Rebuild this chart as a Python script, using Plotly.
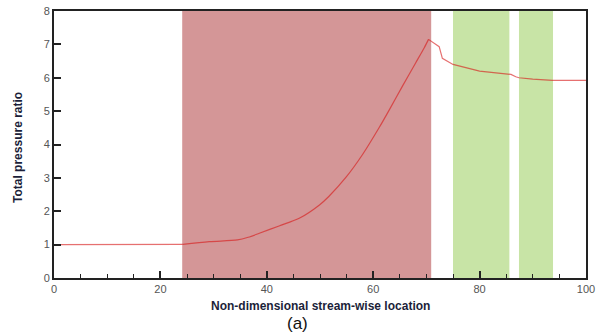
import plotly.graph_objects as go

# Total pressure ratio along the stream-wise coordinate
location = [0, 24, 24.2, 29.2, 34.5, 36.5, 38.6, 42.3, 46.1, 49.9, 51.7, 54.9,
            58.0, 61.1, 63.0, 65.5, 68.0, 69.6, 70.4, 71.1, 72.4, 73.0, 74.1,
            75, 80, 85.5, 85.9, 86.8, 87.4, 90, 93.7, 100]
pressure_ratio = [1.0, 1.0, 1.01, 1.09, 1.14, 1.22, 1.34, 1.56, 1.79, 2.19, 2.45, 3.02,
                  3.70, 4.50, 5.03, 5.75, 6.45, 6.90, 7.15, 7.08, 6.93, 6.58, 6.48,
                  6.40, 6.20, 6.11, 6.10, 6.03, 6.00, 5.96, 5.92, 5.92]

# Shaded stream-wise zones: (start, end, colour)
zone_start = [24.1, 75.0, 87.4]
zone_end = [70.9, 85.6, 93.8]
zone_color = ["rgb(212,150,151)", "rgb(200,228,166)", "rgb(200,228,166)"]

x_ticks = [0, 20, 40, 60, 80, 100]
y_ticks = [0, 1, 2, 3, 4, 5, 6, 7, 8]

FONT = "Liberation Sans, Arial, sans-serif"
LINE = dict(color="rgba(215,25,25,0.62)", width=1.2)

# smooth compression ramp up to the peak, piecewise-linear afterwards
peak = pressure_ratio.index(max(pressure_ratio))

fig = go.Figure()
fig.add_trace(go.Scatter(
    x=location[2:peak + 1], y=pressure_ratio[2:peak + 1], mode="lines",
    line=dict(shape="spline", smoothing=0.8, **LINE), showlegend=False,
))
fig.add_trace(go.Scatter(
    x=location[:3], y=pressure_ratio[:3], mode="lines",
    line=LINE, showlegend=False,
))
fig.add_trace(go.Scatter(
    x=location[peak:], y=pressure_ratio[peak:], mode="lines",
    line=LINE, showlegend=False,
))

for x0, x1, c in zip(zone_start, zone_end, zone_color):
    fig.add_shape(type="rect", xref="x", yref="paper", x0=x0, x1=x1, y0=0, y1=1,
                  fillcolor=c, line=dict(width=0), layer="below")

axis_common = dict(
    showgrid=False, zeroline=False, showline=True, mirror=True,
    linecolor="#222222", linewidth=2, automargin=False,
    ticks="inside", ticklen=7, tickwidth=2, tickcolor="#222222",
    tickfont=dict(family=FONT, size=11, color="#555555"),
)

fig.update_xaxes(range=[0, 100], tickvals=x_ticks,
                 minor=dict(dtick=5, ticks="inside", ticklen=4, tickwidth=1,
                            tickcolor="#222222"),
                 **axis_common)
fig.update_yaxes(range=[0, 8], tickvals=y_ticks, **axis_common)

fig.add_annotation(text="<b>Non-dimensional stream-wise location</b>",
                   xref="paper", yref="paper", x=0.5, y=-0.103,
                   xanchor="center", yanchor="middle", showarrow=False,
                   font=dict(family=FONT, size=12, color="#1c1f3a"))
fig.add_annotation(text="<b>Total pressure ratio</b>",
                   xref="paper", yref="paper", x=-0.069, y=0.488,
                   xanchor="center", yanchor="middle", textangle=-90, showarrow=False,
                   font=dict(family=FONT, size=12, color="#1c1f3a"))
fig.add_annotation(text="(a)",
                   xref="paper", yref="paper", x=0.458, y=-0.169,
                   xanchor="center", yanchor="middle", showarrow=False,
                   font=dict(family=FONT, size=17, color="#111111"))

fig.update_layout(
    width=602, height=334,
    margin=dict(l=54, r=16, t=11, b=56),
    paper_bgcolor="white", plot_bgcolor="white",
)

fig.write_html("out.html")
